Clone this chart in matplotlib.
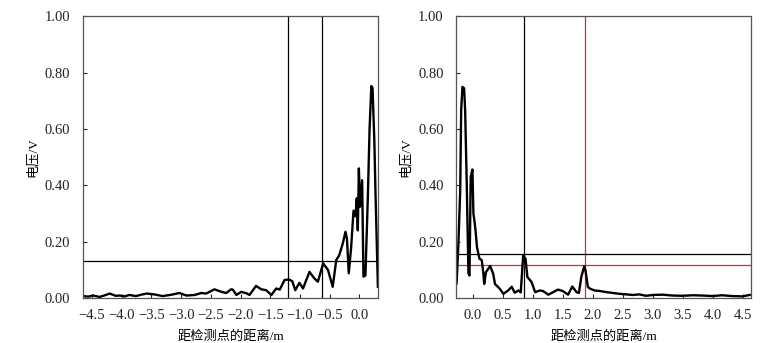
import matplotlib
matplotlib.use("Agg")
import matplotlib.pyplot as plt

plt.rcParams['font.family'] = ['Liberation Serif', 'Noto Sans CJK SC']
plt.rcParams['axes.unicode_minus'] = True

# left panel: distance (m) and voltage (V)
x_left = [-4.65, -4.56, -4.48, -4.37, -4.28, -4.2, -4.1, -4.03, -3.95, -3.87,
          -3.76, -3.67, -3.58, -3.45, -3.31, -3.16, -3.03, -2.91, -2.77, -2.66,
          -2.58, -2.44, -2.32, -2.24, -2.16, -2.13, -2.07, -1.99, -1.90, -1.85,
          -1.74, -1.65, -1.57, -1.48, -1.40, -1.34, -1.26, -1.19, -1.13, -1.08,
          -1.01, -0.95, -0.84, -0.76, -0.70, -0.61, -0.53, -0.45, -0.39, -0.34,
          -0.28, -0.235, -0.21, -0.18, -0.14, -0.10, -0.067, -0.045, -0.028, -0.01,
          0.01, 0.045, 0.067, 0.10, 0.14, 0.17, 0.20, 0.22, 0.25, 0.27, 0.31]
v_left = [0.007, 0.005, 0.009, 0.004, 0.010, 0.016, 0.008, 0.009, 0.006, 0.011,
          0.007, 0.012, 0.016, 0.013, 0.007, 0.012, 0.018, 0.009, 0.011, 0.018,
          0.016, 0.031, 0.022, 0.018, 0.031, 0.030, 0.011, 0.022, 0.017, 0.011,
          0.043, 0.031, 0.028, 0.011, 0.034, 0.030, 0.064, 0.066, 0.060, 0.028,
          0.054, 0.034, 0.093, 0.070, 0.058, 0.123, 0.100, 0.040, 0.135, 0.152,
          0.194, 0.235, 0.21, 0.088, 0.18, 0.31, 0.29, 0.354, 0.24, 0.46,
          0.324, 0.418, 0.076, 0.080, 0.35, 0.60, 0.752, 0.745, 0.56, 0.37, 0.04]

# right panel
x_right = [-0.27, -0.24, -0.21, -0.194, -0.173, -0.145, -0.128, -0.10, -0.073, -0.055,
           -0.035, -0.006, 0.01, 0.03, 0.05, 0.07, 0.11, 0.15, 0.177, 0.19,
           0.22, 0.29, 0.34, 0.37, 0.45, 0.51, 0.59, 0.65, 0.70, 0.76,
           0.80, 0.84, 0.88, 0.91, 0.98, 1.04, 1.12, 1.17, 1.26, 1.34,
           1.42, 1.50, 1.59, 1.66, 1.73, 1.77, 1.81, 1.86, 1.88, 1.92,
           1.96, 2.03, 2.12, 2.23, 2.34, 2.45, 2.56, 2.67, 2.78, 2.89,
           3.0, 3.17, 3.33, 3.5, 3.67, 3.83, 4.0, 4.16, 4.33, 4.5, 4.62]
v_right = [0.052, 0.194, 0.383, 0.667, 0.749, 0.744, 0.667, 0.395, 0.088, 0.080,
           0.43, 0.456, 0.30, 0.27, 0.23, 0.18, 0.14, 0.134, 0.086, 0.05,
           0.092, 0.114, 0.086, 0.05, 0.033, 0.015, 0.027, 0.04, 0.019, 0.027,
           0.02, 0.15, 0.14, 0.075, 0.057, 0.021, 0.027, 0.025, 0.012, 0.021,
           0.030, 0.025, 0.012, 0.041, 0.021, 0.018, 0.075, 0.113, 0.098, 0.039,
           0.033, 0.027, 0.025, 0.021, 0.018, 0.015, 0.013, 0.011, 0.013, 0.008,
           0.011, 0.012, 0.009, 0.008, 0.010, 0.009, 0.007, 0.010, 0.007, 0.006, 0.011]

ticks_left = [-4.5, -4.0, -3.5, -3.0, -2.5, -2.0, -1.5, -1.0, -0.5, 0.0]
ticks_right = [0.0, 0.5, 1.0, 1.5, 2.0, 2.5, 3.0, 3.5, 4.0, 4.5]
yticks = [0.0, 0.2, 0.4, 0.6, 0.8, 1.0]

# marker lines: (position, colour)
vlines_left = [(-1.2, 'black'), (-0.63, 'black')]
hlines_left = [(0.131, 'black')]
vlines_right = [(0.85, 'black'), (1.87, '#e0282c')]
hlines_right = [(0.158, 'black'), (0.117, '#e0282c')]

fig = plt.figure(figsize=(7.72, 3.43), dpi=100)
ax1 = fig.add_axes([0.1075, 0.131, 0.382, 0.822])
ax2 = fig.add_axes([0.5907, 0.131, 0.382, 0.822])

panels = [
    (ax1, x_left, v_left, ticks_left, (-4.65, 0.31), vlines_left, hlines_left),
    (ax2, x_right, v_right, ticks_right, (-0.28, 4.64), vlines_right, hlines_right),
]

for ax, xs, vs, xt, xlim, vl, hl in panels:
    for pos, c in vl:
        ax.axvline(pos, color=c, lw=0.9)
    for pos, c in hl:
        ax.axhline(pos, color=c, lw=0.9)
    ax.plot(xs, vs, color='black', lw=1.7)
    ax.set_xlim(*xlim)
    ax.set_ylim(0, 1.0)
    ax.set_xticks(xt)
    ax.set_xticklabels([f"{t:.1f}".replace('-', '\u2212') for t in xt])
    ax.set_yticks(yticks)
    ax.set_yticklabels([f"{t:.2f}" for t in yticks])
    ax.tick_params(direction='in', length=3, width=0.8, labelsize=10.5,
                   colors='#222222', pad=8)
    ax.tick_params(axis='y', pad=9)
    for s in ax.spines.values():
        s.set_color('#555555')
        s.set_linewidth(0.9)
    ax.set_xlabel('距检测点的距离/m', fontsize=9.5, labelpad=6)
    ax.set_ylabel('电压/V', fontsize=9.5, labelpad=4)

fig.savefig('out.png', dpi=100)
